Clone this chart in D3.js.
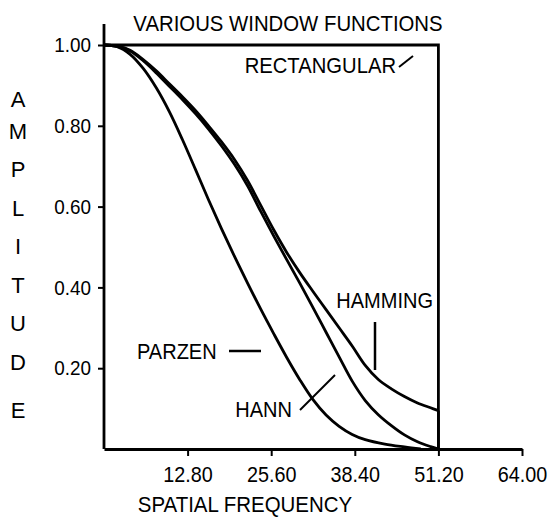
<!DOCTYPE html>
<html>
<head>
<meta charset="utf-8">
<script src="https://cdn.jsdelivr.net/npm/d3@7"></script>
<style>
  body { margin: 0; background: #fff; }
  svg text { font-family: "Liberation Sans", Arial, sans-serif; fill: #000; }
</style>
</head>
<body>
<svg width="552" height="521"></svg>
<script>
// values: [spatial frequency, amplitude]
var rectangular = [[0, 1.0], [51.2, 1.0], [51.2, 0]];
var parzen = [[0, 1.0], [2, 0.996], [4, 0.977], [6, 0.942], [8, 0.894], [10, 0.835], [12, 0.766],
    [14, 0.692], [16, 0.617], [18, 0.545], [20, 0.476], [22, 0.41], [24, 0.346], [26, 0.285],
    [28, 0.226], [30, 0.171], [32, 0.122], [34, 0.084], [36, 0.056], [38, 0.036], [40, 0.023],
    [43, 0.012], [46, 0.005], [48.5, 0]];
var hann = [[0, 1.0], [2, 0.997], [4, 0.985], [6, 0.961], [8, 0.931], [10, 0.898], [12, 0.865],
    [14, 0.83], [16, 0.792], [18, 0.75], [20, 0.704], [22, 0.651], [24, 0.588], [26, 0.527],
    [28, 0.468], [30, 0.41], [32, 0.35], [34, 0.289], [36, 0.228], [38, 0.168], [40, 0.12],
    [42, 0.085], [44, 0.058], [46, 0.035], [48, 0.018], [50, 0.006], [51.2, 0]];
var hamming = [[0, 1.0], [2, 0.997], [4, 0.987], [6, 0.964], [8, 0.936], [10, 0.904], [12, 0.872],
    [14, 0.838], [16, 0.8], [18, 0.76], [20, 0.716], [22, 0.664], [24, 0.603], [26, 0.542],
    [28, 0.486], [30, 0.436], [32, 0.39], [34, 0.345], [36, 0.3], [38, 0.255], [40, 0.207],
    [42, 0.172], [44, 0.149], [46, 0.13], [48, 0.114], [50, 0.102], [51.2, 0.095]];
var hammingEdge = [[51.2, 0.095], [51.2, 0]];

var xTicks = [12.8, 25.6, 38.4, 51.2, 64];
var yTicks = [0.2, 0.4, 0.6, 0.8, 1.0];
var yTitle = ["A", "M", "P", "L", "I", "T", "U", "D", "E"];
var yTitlePos = [99, 131, 169, 208, 246, 285, 323, 362, 410];

var svg = d3.select('svg');

var scaleX = d3.scaleLinear().domain([0, 64]).range([104, 522]);
var scaleY = d3.scaleLinear().domain([0, 1]).range([449, 45]);

// the lettering in the figure is condensed
function narrow(sel, k) {
    sel.each(function() {
        var t = d3.select(this);
        var x = +t.attr('x') || 0;
        t.attr('transform', 'translate(' + (x * (1 - k)) + ',0) scale(' + k + ',1)');
    });
}

// x axis
var xAxis = svg.append('g')
    .attr('transform', 'translate(0,' + scaleY(0) + ')')
    .call(d3.axisBottom(scaleX).tickValues(xTicks).tickFormat(d3.format('.2f')).tickSize(7).tickSizeOuter(0));
xAxis.select('.domain').attr('stroke-width', 2.8);
xAxis.selectAll('.tick line').attr('stroke-width', 2);
xAxis.selectAll('.tick text').attr('font-size', 22).attr('dy', '1.05em').call(narrow, 0.9);

// y axis
var yAxis = svg.append('g')
    .attr('transform', 'translate(' + scaleX(0) + ',0)')
    .call(d3.axisLeft(scaleY).tickValues(yTicks).tickFormat(d3.format('.2f')).tickSize(6).tickSizeOuter(0));
yAxis.select('.domain').remove();
yAxis.selectAll('.tick line').attr('stroke-width', 2);
yAxis.selectAll('.tick text').attr('font-size', 21).attr('x', -13).call(narrow, 0.9);

svg.append('line')
    .attr('x1', scaleX(0)).attr('x2', scaleX(0))
    .attr('y1', scaleY(1.052)).attr('y2', scaleY(0))
    .attr('stroke', '#000').attr('stroke-width', 2.8);

// curves
var line = d3.line()
    .x(function(d) { return scaleX(d[0]); })
    .y(function(d) { return scaleY(d[1]); })
    .curve(d3.curveCatmullRom);
var straight = d3.line()
    .x(function(d) { return scaleX(d[0]); })
    .y(function(d) { return scaleY(d[1]); });

svg.append('path').datum(rectangular).attr('d', straight)
    .attr('fill', 'none').attr('stroke', '#000').attr('stroke-width', 2.8);

[parzen, hann, hamming].forEach(function(s) {
    svg.append('path').datum(s).attr('d', line)
        .attr('fill', 'none').attr('stroke', '#000').attr('stroke-width', 2.8);
});
svg.append('path').datum(hammingEdge).attr('d', straight)
    .attr('fill', 'none').attr('stroke', '#000').attr('stroke-width', 2.8);

// titles
svg.append('text')
    .text('VARIOUS WINDOW FUNCTIONS')
    .attr('x', 288).attr('y', 31)
    .attr('font-size', 23)
    .style('text-anchor', 'middle')
    .call(narrow, 0.885);

svg.append('text')
    .text('SPATIAL FREQUENCY')
    .attr('x', 245).attr('y', 512)
    .attr('font-size', 22)
    .style('text-anchor', 'middle')
    .call(narrow, 0.93);

svg.selectAll('.ytitle')
    .data(yTitle)
    .enter()
    .append('text')
    .attr('class', 'ytitle')
    .text(function(d) { return d; })
    .attr('x', 18)
    .attr('y', function(d, i) { return yTitlePos[i] + 8; })
    .attr('font-size', 22)
    .style('text-anchor', 'middle');

// curve labels and pointers
svg.append('text').text('RECTANGULAR')
    .attr('x', 396).attr('y', 73).attr('font-size', 22).style('text-anchor', 'end')
    .call(narrow, 0.92);
svg.append('line').attr('x1', 399).attr('y1', 67).attr('x2', 413).attr('y2', 56)
    .attr('stroke', '#000').attr('stroke-width', 2);

svg.append('text').text('HAMMING')
    .attr('x', 433).attr('y', 308).attr('font-size', 22).style('text-anchor', 'end')
    .call(narrow, 0.91);
svg.append('line').attr('x1', 375).attr('y1', 322).attr('x2', 375).attr('y2', 370)
    .attr('stroke', '#000').attr('stroke-width', 2.5);

svg.append('text').text('PARZEN')
    .attr('x', 137).attr('y', 359).attr('font-size', 22)
    .call(narrow, 0.91);
svg.append('line').attr('x1', 229).attr('y1', 351).attr('x2', 261).attr('y2', 351)
    .attr('stroke', '#000').attr('stroke-width', 2.5);

svg.append('text').text('HANN')
    .attr('x', 292).attr('y', 417).attr('font-size', 22).style('text-anchor', 'end')
    .call(narrow, 0.91);
svg.append('line').attr('x1', 300).attr('y1', 410).attr('x2', 335).attr('y2', 375)
    .attr('stroke', '#000').attr('stroke-width', 2);
</script>
</body>
</html>
